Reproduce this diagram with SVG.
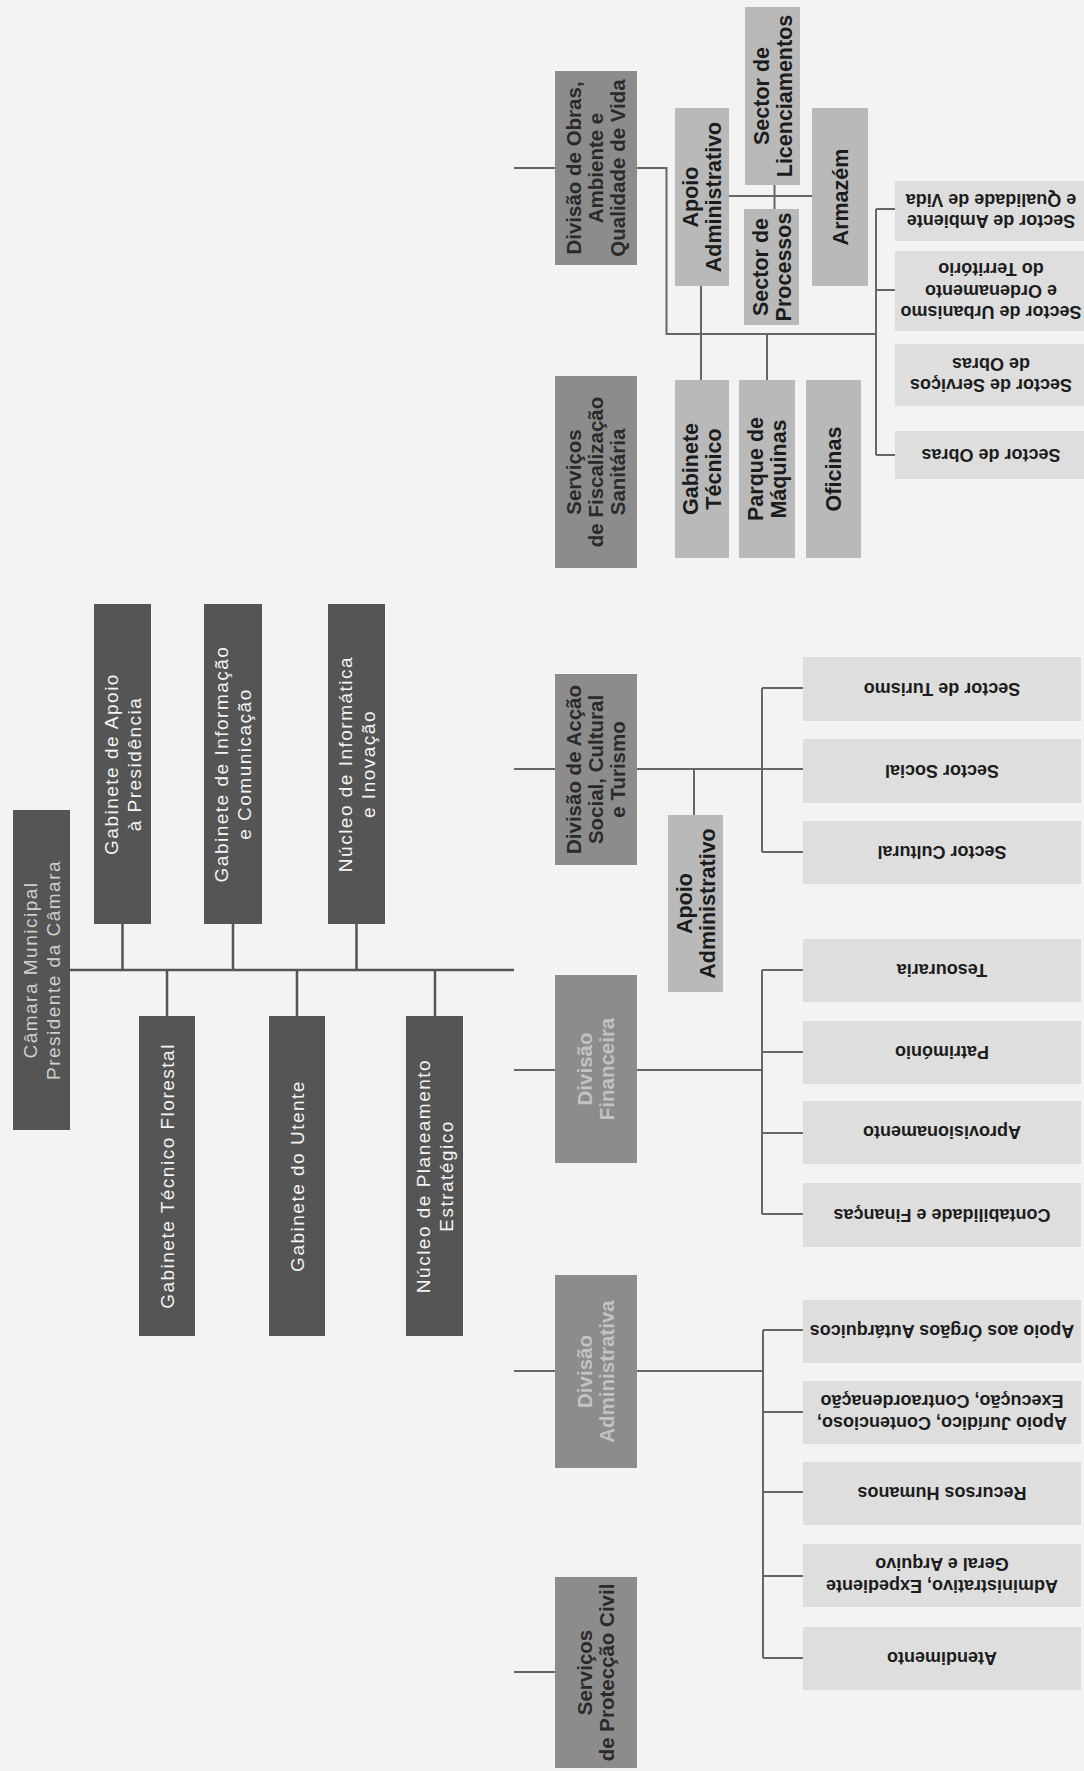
<svg xmlns="http://www.w3.org/2000/svg" width="1084" height="1771" viewBox="0 0 1084 1771">
<style>
.dk{fill:#555555}
.dv{fill:#8c8c8c}
.sb{fill:#b9b9b9}
.lf{fill:#dedede}
.cn{stroke:#666666;stroke-width:2;fill:none}
.cd{stroke:#555555;stroke-width:2.5;fill:none}
text{font-family:"Liberation Sans",Arial,sans-serif;text-anchor:middle}
.tw{font-size:19px;letter-spacing:1.5px;fill:#f4f4f4}
.tc{font-size:19px;letter-spacing:1.5px;fill:#cfcfcf}
.td{font-size:20.5px;font-weight:bold;fill:#2a2a2a}
.tdl{font-size:20.5px;font-weight:bold;fill:#c2c2c2}
.ts{font-size:21.5px;font-weight:bold;fill:#1c1c1c}
.tl{font-size:18px;font-weight:bold;fill:#1c1c1c}
</style>
<rect x="0" y="0" width="1084" height="1771" fill="#f3f3f3"/>

<g id="connectors">
  <path class="cd" d="M70,970 H514"/>
  <path class="cd" d="M122.5,924 V970 M233,924 V970 M356.5,924 V970"/>
  <path class="cd" d="M167,970 V1016 M297,970 V1016 M435,970 V1016"/>
  <path class="cn" d="M514,168 H555 M514,769 H555 M514,1070 H555 M514,1371 H555 M514,1672 H555"/>
  <!-- Obras -->
  <path class="cn" d="M637,168 H666.5 V334 H876"/>
  <path class="cn" d="M876,209 V455 M876,209 H895 M876,290 H895 M876,455 H895"/>
  <path class="cn" d="M729,196 H812 M774.5,185 V209"/>
  <path class="cn" d="M701,286 V380 M767,334 V380"/>
  <!-- Accao Social -->
  <path class="cn" d="M637,769 H803 M762,688 V852 M762,688 H803 M762,852 H803 M694,769 V815"/>
  <!-- Financeira -->
  <path class="cn" d="M637,1070 H762 M762,970 V1214 M762,970 H803 M762,1052 H803 M762,1133 H803 M762,1214 H803"/>
  <!-- Administrativa -->
  <path class="cn" d="M637,1371 H763 M763,1330 V1658 M763,1330 H803 M763,1412 H803 M763,1492 H803 M763,1576 H803 M763,1658 H803"/>
</g>

<g id="camara">
  <rect class="dk" x="13" y="810" width="57" height="320"/>
  <text class="tc" transform="translate(41.5,970) rotate(-90)"><tspan x="0" y="-4.85">Câmara Municipal</tspan><tspan x="0" y="18.15">Presidente da Câmara</tspan></text>
</g>
<g id="gab-apoio">
  <rect class="dk" x="94" y="604" width="57" height="320"/>
  <text class="tw" transform="translate(122.5,764) rotate(-90)"><tspan x="0" y="-4.85">Gabinete de Apoio</tspan><tspan x="0" y="18.15">à Presidência</tspan></text>
</g>
<g id="gab-informacao">
  <rect class="dk" x="204" y="604" width="58" height="320"/>
  <text class="tw" transform="translate(233,764) rotate(-90)"><tspan x="0" y="-4.85">Gabinete de Informação</tspan><tspan x="0" y="18.15">e Comunicação</tspan></text>
</g>
<g id="nucleo-informatica">
  <rect class="dk" x="328" y="604" width="57" height="320"/>
  <text class="tw" transform="translate(356.5,764) rotate(-90)"><tspan x="0" y="-4.85">Núcleo de Informática</tspan><tspan x="0" y="18.15">e Inovação</tspan></text>
</g>
<g id="gab-florestal">
  <rect class="dk" x="139" y="1016" width="56" height="320"/>
  <text class="tw" transform="translate(167,1176) rotate(-90)"><tspan x="0" y="7">Gabinete Técnico Florestal</tspan></text>
</g>
<g id="gab-utente">
  <rect class="dk" x="269" y="1016" width="56" height="320"/>
  <text class="tw" transform="translate(297,1176) rotate(-90)"><tspan x="0" y="7">Gabinete do Utente</tspan></text>
</g>
<g id="nucleo-planeamento">
  <rect class="dk" x="406" y="1016" width="57" height="320"/>
  <text class="tw" transform="translate(434.5,1176) rotate(-90)"><tspan x="0" y="-4.85">Núcleo de Planeamento</tspan><tspan x="0" y="18.15">Estratégico</tspan></text>
</g>

<g id="div-obras">
  <rect class="dv" x="555" y="71" width="82" height="194"/>
  <text class="td" transform="translate(596,168) rotate(-90)"><tspan x="0" y="-14.8">Divisão de Obras,</tspan><tspan x="0" y="7.2">Ambiente e</tspan><tspan x="0" y="29.2">Qualidade de Vida</tspan></text>
</g>
<g id="serv-fiscalizacao">
  <rect class="dv" x="555" y="376" width="82" height="192"/>
  <text class="td" transform="translate(596,472) rotate(-90)"><tspan x="0" y="-14.8">Serviços</tspan><tspan x="0" y="7.2">de Fiscalização</tspan><tspan x="0" y="29.2">Sanitária</tspan></text>
</g>
<g id="div-accao-social">
  <rect class="dv" x="555" y="674" width="82" height="191"/>
  <text class="td" transform="translate(596,769.5) rotate(-90)"><tspan x="0" y="-14.8">Divisão de Acção</tspan><tspan x="0" y="7.2">Social, Cultural</tspan><tspan x="0" y="29.2">e Turismo</tspan></text>
</g>
<g id="div-financeira">
  <rect class="dv" x="555" y="975" width="82" height="188"/>
  <text class="tdl" transform="translate(596,1069) rotate(-90)"><tspan x="0" y="-3.8">Divisão</tspan><tspan x="0" y="18.2">Financeira</tspan></text>
</g>
<g id="div-administrativa">
  <rect class="dv" x="555" y="1275" width="82" height="193"/>
  <text class="tdl" transform="translate(596,1371.5) rotate(-90)"><tspan x="0" y="-3.8">Divisão</tspan><tspan x="0" y="18.2">Administrativa</tspan></text>
</g>
<g id="serv-proteccao-civil">
  <rect class="dv" x="555" y="1577" width="82" height="191"/>
  <text class="td" transform="translate(596,1672.5) rotate(-90)"><tspan x="0" y="-3.8">Serviços</tspan><tspan x="0" y="18.2">de Protecção Civil</tspan></text>
</g>

<g id="obras-apoio-admin">
  <rect class="sb" x="675" y="108" width="54" height="178"/>
  <text class="ts" transform="translate(702,197) rotate(-90)"><tspan x="0" y="-4">Apoio</tspan><tspan x="0" y="19">Administrativo</tspan></text>
</g>
<g id="sector-licenciamentos">
  <rect class="sb" x="745" y="7" width="55" height="178"/>
  <text class="ts" transform="translate(772.5,96) rotate(-90)"><tspan x="0" y="-4">Sector de</tspan><tspan x="0" y="19">Licenciamentos</tspan></text>
</g>
<g id="sector-processos">
  <rect class="sb" x="744" y="209" width="55" height="116"/>
  <text class="ts" transform="translate(771.5,267) rotate(-90)"><tspan x="0" y="-4">Sector de</tspan><tspan x="0" y="19">Processos</tspan></text>
</g>
<g id="armazem">
  <rect class="sb" x="812" y="108" width="56" height="178"/>
  <text class="ts" transform="translate(840,197) rotate(-90)"><tspan x="0" y="7.5">Armazém</tspan></text>
</g>
<g id="gabinete-tecnico">
  <rect class="sb" x="675" y="380" width="54" height="178"/>
  <text class="ts" transform="translate(702,469) rotate(-90)"><tspan x="0" y="-4">Gabinete</tspan><tspan x="0" y="19">Técnico</tspan></text>
</g>
<g id="parque-maquinas">
  <rect class="sb" x="739" y="380" width="56" height="178"/>
  <text class="ts" transform="translate(767,469) rotate(-90)"><tspan x="0" y="-4">Parque de</tspan><tspan x="0" y="19">Máquinas</tspan></text>
</g>
<g id="oficinas">
  <rect class="sb" x="806" y="380" width="55" height="178"/>
  <text class="ts" transform="translate(833.5,469) rotate(-90)"><tspan x="0" y="7.5">Oficinas</tspan></text>
</g>

<g id="sector-ambiente">
  <rect class="lf" x="895" y="181" width="189" height="60"/>
  <text class="tl" transform="translate(991,211) rotate(180)"><tspan x="0" y="-4.45">Sector de Ambiente</tspan><tspan x="0" y="17.05">e Qualidade de Vida</tspan></text>
</g>
<g id="sector-urbanismo">
  <rect class="lf" x="895" y="251" width="189" height="80"/>
  <text class="tl" transform="translate(991,291) rotate(180)"><tspan x="0" y="-15.2">Sector de Urbanismo</tspan><tspan x="0" y="6.3">e Ordenamento</tspan><tspan x="0" y="27.8">do Território</tspan></text>
</g>
<g id="sector-servicos-obras">
  <rect class="lf" x="895" y="344" width="189" height="62"/>
  <text class="tl" transform="translate(991,375) rotate(180)"><tspan x="0" y="-4.45">Sector de Serviços</tspan><tspan x="0" y="17.05">de Obras</tspan></text>
</g>
<g id="sector-obras">
  <rect class="lf" x="895" y="431" width="189" height="48"/>
  <text class="tl" transform="translate(991,455) rotate(180)"><tspan x="0" y="6.3">Sector de Obras</tspan></text>
</g>

<g id="social-apoio-admin">
  <rect class="sb" x="668" y="815" width="55" height="177"/>
  <text class="ts" transform="translate(695.5,903.5) rotate(-90)"><tspan x="0" y="-4">Apoio</tspan><tspan x="0" y="19">Administrativo</tspan></text>
</g>
<g id="sector-turismo">
  <rect class="lf" x="803" y="657" width="278" height="64"/>
  <text class="tl" transform="translate(942,689) rotate(180)"><tspan x="0" y="6.3">Sector de Turismo</tspan></text>
</g>
<g id="sector-social">
  <rect class="lf" x="803" y="739" width="278" height="64"/>
  <text class="tl" transform="translate(942,771) rotate(180)"><tspan x="0" y="6.3">Sector Social</tspan></text>
</g>
<g id="sector-cultural">
  <rect class="lf" x="803" y="821" width="278" height="63"/>
  <text class="tl" transform="translate(942,852.5) rotate(180)"><tspan x="0" y="6.3">Sector Cultural</tspan></text>
</g>

<g id="tesouraria">
  <rect class="lf" x="803" y="939" width="278" height="63"/>
  <text class="tl" transform="translate(942,970.5) rotate(180)"><tspan x="0" y="6.3">Tesouraria</tspan></text>
</g>
<g id="patrimonio">
  <rect class="lf" x="803" y="1021" width="278" height="63"/>
  <text class="tl" transform="translate(942,1052.5) rotate(180)"><tspan x="0" y="6.3">Património</tspan></text>
</g>
<g id="aprovisionamento">
  <rect class="lf" x="803" y="1101" width="278" height="63"/>
  <text class="tl" transform="translate(942,1132.5) rotate(180)"><tspan x="0" y="6.3">Aprovisionamento</tspan></text>
</g>
<g id="contabilidade">
  <rect class="lf" x="803" y="1183" width="278" height="64"/>
  <text class="tl" transform="translate(942,1215) rotate(180)"><tspan x="0" y="6.3">Contabilidade e Finanças</tspan></text>
</g>

<g id="apoio-orgaos">
  <rect class="lf" x="803" y="1300" width="278" height="63"/>
  <text class="tl" transform="translate(942,1331.5) rotate(180)"><tspan x="0" y="6.3">Apoio aos Órgãos Autárquicos</tspan></text>
</g>
<g id="apoio-juridico">
  <rect class="lf" x="803" y="1381" width="278" height="63"/>
  <text class="tl" transform="translate(942,1412.5) rotate(180)"><tspan x="0" y="-4.45">Apoio Jurídico, Contencioso,</tspan><tspan x="0" y="17.05">Execução, Contraordenação</tspan></text>
</g>
<g id="recursos-humanos">
  <rect class="lf" x="803" y="1462" width="278" height="63"/>
  <text class="tl" transform="translate(942,1493.5) rotate(180)"><tspan x="0" y="6.3">Recursos Humanos</tspan></text>
</g>
<g id="administrativo-expediente">
  <rect class="lf" x="803" y="1544" width="278" height="63"/>
  <text class="tl" transform="translate(942,1575.5) rotate(180)"><tspan x="0" y="-4.45">Administrativo, Expediente</tspan><tspan x="0" y="17.05">Geral e Arquivo</tspan></text>
</g>
<g id="atendimento">
  <rect class="lf" x="803" y="1627" width="278" height="63"/>
  <text class="tl" transform="translate(942,1658.5) rotate(180)"><tspan x="0" y="6.3">Atendimento</tspan></text>
</g>
</svg>
